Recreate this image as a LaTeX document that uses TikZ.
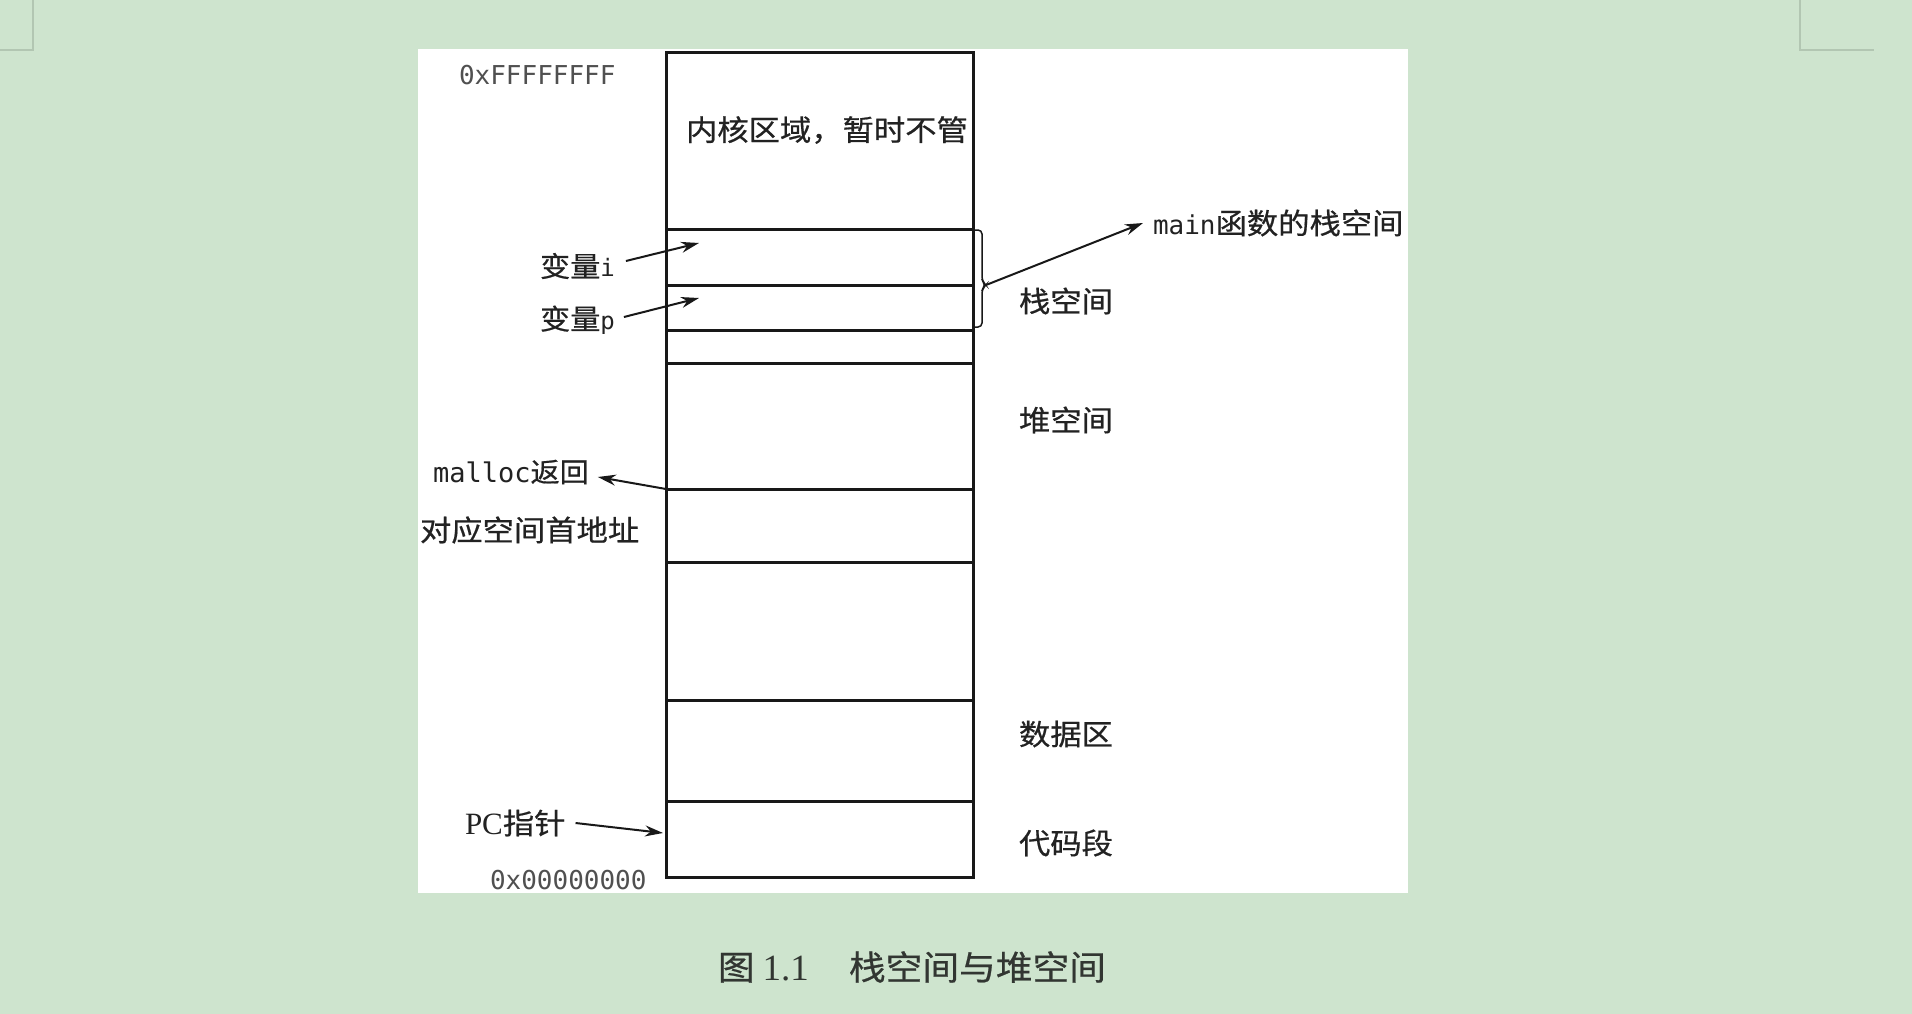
\documentclass[tikz,border=0pt]{standalone}
\usepackage{fontspec}
\setmainfont{Liberation Serif}
\newfontfamily\cjkfont{Noto Sans CJK SC}[FakeStretch=1.08,FakeBold=0.6]
\newfontfamily\monofont{DejaVu Sans Mono}
\usetikzlibrary{arrows.meta}

\begin{document}
\begin{tikzpicture}[x=1pt,y=-1pt,line cap=rect,
  seg/.style={line width=3.0pt, custcol_line},
  ptr/.style={line width=2.0pt, custcol_line, line cap=butt, -{Stealth[length=18pt,width=11pt]}},
  lbl/.style={inner sep=0, outer sep=0, custcol_text, anchor=west},
  addr/.style={lbl, custcol_addr}]
\def\cjksize#1{\fontsize{#1pt}{#1pt}\selectfont\cjkfont}
\def\monosize#1{\fontsize{#1pt}{#1pt}\selectfont\monofont}
\definecolor{custcol_bg}{RGB}{206, 228, 206}
\definecolor{custcol_frame}{RGB}{178, 198, 178}
\definecolor{custcol_line}{RGB}{24, 24, 24}
\definecolor{custcol_text}{RGB}{34, 34, 34}
\definecolor{custcol_addr}{RGB}{80, 80, 80}
\definecolor{custcol_cap}{RGB}{50, 54, 50}
\useasboundingbox (0,0) rectangle (1912,1014);
\fill [custcol_bg] (0,0) rectangle (1912,1014);
\draw [line width=1.5pt, custcol_frame] (0,50) -- (33,50) -- (33,0);
\draw [line width=1.5pt, custcol_frame] (1800,0) -- (1800,50) -- (1873,50);
\fill [white] (418,49) rectangle (1408,893);
% memory layout column
\draw [seg] (666,53) rectangle (973,877);
\foreach \y in {229,285,330,363,489,562,700,801}
  \draw [seg] (666,\y) -- (973,\y);
\draw [line width=1.5pt, custcol_line, rounded corners=4pt] (973,230) -- (982,230) -- (982,281) -- (986,285) -- (982,289) -- (982,327) -- (973,327);
\coordinate (stacktip) at (986,285);
\coordinate (islot) at (699,243);
\coordinate (pslot) at (699,298);
\coordinate (heapret) at (666,489);
\coordinate (pcslot) at (663,833);
\node [addr, font=\monosize{26}] (topaddr) at (459,75) {0xFFFFFFFF};
\node [addr, font=\monosize{26}] (botaddr) at (490,880) {0x00000000};
\node [lbl, font=\cjksize{29}] (kernel) at (686,130) {内核区域，暂时不管};
\node [lbl] (vari) at (540,266) {{\cjksize{28}变量}{\monosize{24}i}};
\node [lbl] (varp) at (540,320) {{\cjksize{28}变量}{\monosize{24}p}};
\node [lbl] (mainlbl) at (1153,223) {{\monosize{26}main}{\cjksize{29}函数的栈空间}};
\node [lbl, font=\cjksize{29}] (stacklbl) at (1019,301) {栈空间};
\node [lbl, font=\cjksize{29}] (heaplbl) at (1019,420) {堆空间};
\node [lbl, font=\cjksize{29}] (datalbl) at (1019,734) {数据区};
\node [lbl, font=\cjksize{29}] (codelbl) at (1019,843) {代码段};
\node [lbl] (malloclbl) at (433,472) {{\monosize{27}malloc}{\cjksize{27}返回}};
\node [lbl, font=\cjksize{29}] (addrlbl) at (420,530) {对应空间首地址};
\node [lbl] (pclbl) at (465,823) {{\fontsize{31pt}{31pt}\selectfont PC}{\cjksize{29}指针}};
\node [lbl, custcol_cap, font=\fontsize{37pt}{37pt}\selectfont] (caption) at (718,967) {{\cjksize{34}图}\hspace{8pt}1.1\hspace{40pt}{\cjksize{34}栈空间与堆空间}};
\draw [ptr] ([shift={(11,-5)}]vari.east) -- (islot);
\draw [ptr] ([shift={(9,-3)}]varp.east) -- (pslot);
\draw [ptr] (stacktip) -- ([xshift=-10pt]mainlbl.west);
\draw [ptr] (heapret) -- ([shift={(9,5)}]malloclbl.east);
\draw [ptr] ([xshift=10pt]pclbl.east) -- (pcslot);
\end{tikzpicture}
\end{document}
